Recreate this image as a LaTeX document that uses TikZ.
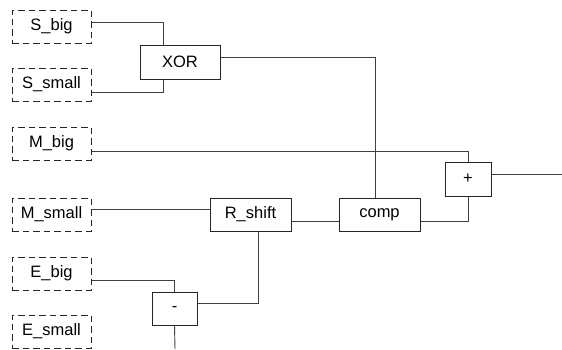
\documentclass[tikz,border=0pt]{standalone}
\usepackage{fontspec}
\setmainfont{Liberation Sans}
\definecolor{wire}{HTML}{404040}
\definecolor{edge}{HTML}{262626}
\begin{document}
\begin{tikzpicture}[x=1pt,y=-1pt,
  inbox/.style={draw=edge,line width=1pt,dash pattern=on 6.5pt off 4pt,minimum width=79pt,minimum height=33pt,inner sep=0pt},
  opbox/.style={draw=edge,line width=1pt,minimum height=33pt,inner sep=0pt},
  wirel/.style={draw=wire,line width=0.9pt}]
\useasboundingbox(0,0)rectangle(562,349);
\fontsize{16.5}{19}\selectfont
\node[inbox](sbig)at(51.5,26.5){S\_big};
\node[inbox](ssmall)at(51.5,84.5){S\_small};
\node[inbox](mbig)at(51.5,143.5){M\_big};
\node[inbox](msmall)at(51.5,214.5){M\_small};
\node[inbox](ebig)at(51.5,273.5){E\_big};
\node[inbox](esmall)at(51.5,331.5){E\_small};
\node[opbox,minimum width=80pt,minimum height=34pt](xor)at(180,62){XOR};
\node[opbox,minimum width=81pt](rshift)at(250.5,214.5){R\_shift};
\node[opbox,minimum width=81pt](comp)at(379.5,214.5){comp};
\node[opbox,minimum width=46pt,minimum height=34pt](plus)at(468,179){+};
\node[opbox,minimum width=45pt](minus)at(174.5,308.5){-};
\coordinate(out)at(562,174);
\coordinate(bottom)at(175,349);
\draw[wirel]([yshift=4.5pt]sbig.east)-|([xshift=-17pt]xor.north);
\draw[wirel]([yshift=-7.5pt]ssmall.east)-|([xshift=-17pt]xor.south);
\draw[wirel]([yshift=5pt]xor.east)-|([xshift=-4.5pt]comp.north);
\draw[wirel]([yshift=-7.5pt]mbig.east)-|(plus.north);
\draw[wirel]([yshift=5pt]plus.east)--(out);
\draw[wirel]([yshift=5.5pt]msmall.east)--([yshift=5.5pt]rshift.west);
\draw[wirel]([yshift=-6.5pt]rshift.east)--([yshift=-6.5pt]comp.west);
\draw[wirel]([yshift=-6.5pt]comp.east)-|(plus.south);
\draw[wirel]([xshift=7.5pt]rshift.south)|-([yshift=5.5pt]minus.east);
\draw[wirel]([yshift=-6.5pt]ebig.east)-|(minus.north);
\draw[wirel](minus.south)--(bottom);
\end{tikzpicture}
\end{document}
